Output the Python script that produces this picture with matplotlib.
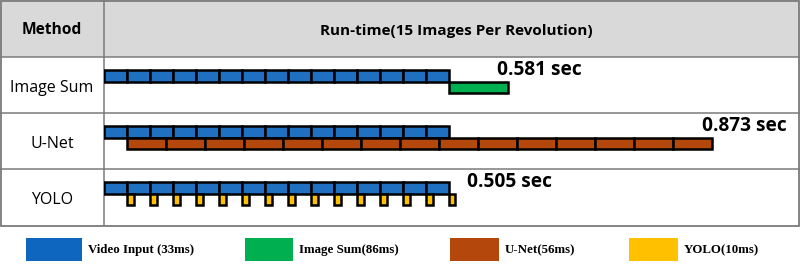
import matplotlib
matplotlib.use('Agg')
import matplotlib.pyplot as plt
from matplotlib.patches import Rectangle

# stage durations (ms)
frame_ms = 33
imgsum_ms = 86
unet_ms = 56
yolo_ms = 10
n_frames = 15

methods = ['Image Sum', 'U-Net', 'YOLO']
totals = [0.581, 0.873, 0.505]
label_x = [565, 859, 521]  # where the run-time text starts (ms axis)

legend_names = ['Video Input (33ms)', 'Image Sum(86ms)', 'U-Net(56ms)', 'YOLO(10ms)']
c_blue = '#1F70C1'
c_green = '#00B050'
c_brown = '#B4470B'
c_yellow = '#FFC000'
legend_colors = ['#0F66BF', c_green, c_brown, c_yellow]

sans = ['Open Sans', 'DejaVu Sans']

W, H = 800, 266
fig = plt.figure(figsize=(8, 2.66), dpi=100)

# table / legend background in pixel coords
bg = fig.add_axes([0, 0, 1, 1])
bg.set_xlim(0, W)
bg.set_ylim(H, 0)
bg.axis('off')

head_h = 57
row_h = 56
tbl_bottom = head_h + 3 * row_h
col_x = 104
line_c = '#7a7a7a'

bg.add_patch(Rectangle((0, 0), W - 1, head_h, facecolor='#d9d9d9', edgecolor='none'))
bg.add_patch(Rectangle((0.5, 0.5), W - 2, tbl_bottom, facecolor='none', edgecolor=line_c, lw=1.3))
bg.plot([col_x, col_x], [0, tbl_bottom], color=line_c, lw=1.1)
for i in range(3):
    y = head_h + i * row_h
    bg.plot([0, W - 1], [y, y], color=line_c, lw=1.1)

bg.text(col_x / 2, head_h / 2 + 2, 'Method', ha='center', va='center',
        fontsize=11.2, fontweight='bold', family=sans)
bg.text((col_x + W) / 2 + 4, head_h / 2 + 2, 'Run-time(15 Images Per Revolution)', ha='center',
        va='center', fontsize=11, fontweight='bold', family=sans)
for i, m in enumerate(methods):
    bg.text(col_x / 2, head_h + i * row_h + row_h * 0.55, m, ha='center', va='center',
            fontsize=11.5, family=sans)

# legend
leg_x = [26, 245, 450, 629]
leg_w = [56, 48, 49, 49]
for x, w, name, c in zip(leg_x, leg_w, legend_names, legend_colors):
    bg.add_patch(Rectangle((x, 238), w, 23, facecolor=c, edgecolor='none'))
    bg.text(x + w + 6, 250, name, ha='left', va='center', fontsize=9.3,
            fontweight='bold', family=['Liberation Serif', 'DejaVu Serif'])

# timing bars, x axis in ms
ax = fig.add_axes([col_x / W, (H - tbl_bottom) / H, (W - col_x) / W, 3 * row_h / H])
ax.set_xlim(0, 1000)
ax.set_ylim(3, 0)
ax.axis('off')
ax.patch.set_alpha(0)

bh = 0.21
top = 0.23
bot = top + bh
ec = 'black'
lw = 1.8
frames = [i * frame_ms for i in range(n_frames)]

for r in range(3):
    ax.barh([r + top + bh / 2] * n_frames, [frame_ms] * n_frames, left=frames, height=bh,
            color=c_blue, edgecolor=ec, lw=lw)

# Image Sum: one summation after all frames
ax.barh(0 + bot + bh / 2, imgsum_ms, left=n_frames * frame_ms, height=bh,
        color=c_green, edgecolor=ec, lw=lw)

# U-Net: one inference per frame, starting after first frame
unet_left = [frame_ms + i * unet_ms for i in range(n_frames)]
ax.barh([1 + bot + bh / 2] * n_frames, [unet_ms] * n_frames, left=unet_left, height=bh,
        color=c_brown, edgecolor=ec, lw=lw)

# YOLO: short inference after each frame
yolo_left = [frame_ms + i * frame_ms for i in range(n_frames)]
ax.barh([2 + bot + bh / 2] * n_frames, [yolo_ms] * n_frames, left=yolo_left, height=bh,
        color=c_yellow, edgecolor=ec, lw=lw)

for r, (t, x) in enumerate(zip(totals, label_x)):
    ax.text(x, r + 0.24, '%.3f sec' % t, ha='left', va='center', fontsize=13.8,
            fontweight='bold', family=sans)

fig.savefig('out.png', dpi=100)
